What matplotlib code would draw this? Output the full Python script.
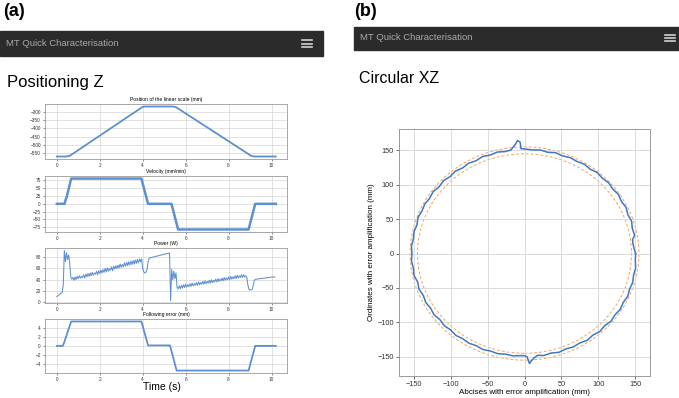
import numpy as np
import matplotlib.pyplot as plt
from matplotlib.patches import Rectangle, Circle
from matplotlib.lines import Line2D

plt.rcParams['font.family'] = ['Liberation Sans', 'DejaVu Sans']

W, H = 679, 398

# ---- panel (a): Positioning Z ----
position_t = [0, 0.45, 0.6, 4.0, 4.1, 5.4, 5.55, 9.05, 9.2, 10.2]
position_mm = [-570, -570, -566, -270, -268, -268, -272, -566, -570, -570]

velocity_t = [0, 0.36, 0.42, 0.46, 0.67, 3.94, 4.25, 5.34, 5.65, 8.93, 9.24, 10.2]
velocity = [0, 0, 15, 22, 81, 81, 0, 0, -82, -82, 0, 0]

follow_t = [0, 0.28, 0.36, 0.67, 3.94, 4.25, 5.27, 5.58, 8.93, 9.24, 10.2]
follow_err = [0, 0, 1, 5.35, 5.35, 0.1, 0.1, -5.4, -5.4, 0, 0]

power_dt = 0.05  # sampling period of the power record (s)
power_w = [
    10, 11.5, 13, 14.5, 16, 17.5, 30, 92, 72, 88, 76, 84, 70, 45,
    41, 44, 39, 45, 40, 46, 42, 47, 43, 46,
    44, 49, 43, 50, 45, 51, 46, 52, 47, 53,
    48, 52, 50, 55, 49, 56, 51, 57, 52, 58,
    53, 60, 54, 61, 55, 60, 57, 63, 56, 64,
    59, 65, 60, 66, 61, 68, 62, 67, 63, 70,
    64, 71, 65, 72, 66, 73, 67, 74, 68, 75,
    69, 76, 70, 77, 72,
    77, 60, 54, 52, 53, 58, 72, 78, 79, 79.5, 80, 80.5, 81, 81.5, 82,
    82.5, 83, 83.5, 84, 84.5, 85, 85.5, 86, 86.3, 86.6, 87, 87.5,
    3, 58, 40, 55, 42, 52, 26, 24,
    29, 24, 30, 25, 31, 26, 32, 27, 31, 28,
    33, 28, 34, 29, 33, 30, 35, 30, 36, 31,
    35, 32, 37, 32, 38, 33, 37, 34, 39, 34,
    40, 35, 39, 36, 41, 36, 42, 37, 41, 38,
    43, 38, 44, 39, 43, 40, 45, 40, 46, 41,
    45, 42, 47, 42, 48, 43, 47, 44, 49, 44,
    49, 45, 47,
    44, 30, 23, 22, 22, 23, 30, 39,
    40.5, 41.0, 41.3, 41.6, 41.8, 42.0, 42.3, 42.5, 42.8, 43.0,
    43.2, 43.5, 43.7, 44.0, 44.2, 44.5, 44.6, 44.8, 45.0,
]
power_t = np.arange(len(power_w)) * power_dt

time_ticks = [0, 2, 4, 6, 8, 10]
position_ticks = [-550, -500, -450, -400, -350, -300]
velocity_ticks = [-75, -50, -25, 0, 25, 50, 75]
power_ticks = [0, 20, 40, 60, 80]
follow_ticks = [-4, -2, 0, 2, 4]

# ---- panel (b): Circular XZ ----
circ_angle_deg = [
    0, 3, 6, 8, 10, 14, 18, 22, 26, 30, 34, 38, 42, 46, 50, 54, 58, 62, 66, 70,
    74, 78, 82, 86, 90, 91.8, 92.1, 93.3, 94.5, 95.8, 97, 100, 104, 108, 112,
    116, 120, 124, 128, 132, 136, 140, 144, 148, 152, 156, 160, 164, 168, 172,
    176, 180, 184, 188, 192, 196, 200, 204, 208, 212, 216, 220, 224, 228, 232,
    236, 240, 244, 248, 252, 256, 260, 264, 268, 270, 271.3, 272.4, 273.5, 275,
    277, 280, 284, 288, 292, 296, 300, 304, 308, 312, 316, 320, 324, 328, 332,
    336, 340, 344, 348, 352, 356, 360,
]
circ_radius = [
    150.5, 148.5, 147.5, 148, 151.5, 150.5, 152.5, 151, 153, 151.5, 153.5, 152,
    153.5, 152, 153.5, 151.5, 153, 151.5, 152.5, 151, 152.5, 150.5, 152, 151,
    152, 152.5, 162, 164.5, 159, 155, 151.5, 150.5, 152, 150.5, 152, 150,
    151.5, 150, 152, 150.5, 152.5, 151, 153, 151.5, 153, 152, 153.5, 151.5,
    153, 152, 153.5, 152.5, 153.5, 152, 153, 150.5, 152, 150, 151.5, 150,
    151.5, 149.5, 151, 149.5, 151, 149.5, 150.5, 149, 150.5, 149, 150, 148.5,
    149.5, 148.5, 148.5, 150, 160, 156, 152, 149, 150.5, 149, 151, 149.5, 151,
    150, 152, 150.5, 152.5, 151, 153, 151.5, 153, 151.5, 153, 151.5, 152.5,
    151, 152, 150.5, 150.5,
]
ref_radii = [145, 155]
circ_ticks = [-150, -100, -50, 0, 50, 100, 150]

fig = plt.figure(figsize=(W / 100, H / 100), dpi=100)


def rect(l, t, r, b):
    return [l / W, 1 - b / H, (r - l) / W, (b - t) / H]


def header(x0, x1, y0, y1, title_y, icon_x):
    fig.add_artist(Rectangle((x0 / W, 1 - y1 / H), (x1 - x0) / W, (y1 - y0) / H,
                             transform=fig.transFigure, color='#2b2b2b', zorder=0))
    fig.text((x0 + 6) / W, 1 - title_y / H, 'MT Quick Characterisation',
             color='#a9a9a9', fontsize=6.8, va='center')
    for dy in (-3.2, 0, 3.2):
        fig.add_artist(Line2D([icon_x / W, (icon_x + 10) / W],
                              [1 - (title_y + dy) / H] * 2,
                              transform=fig.transFigure, color='#d0d0d0', lw=1.2))


# headers
fig.text(3 / W, 1 - 12 / H, '(a)', fontsize=13, fontweight='bold', va='center')
fig.text(354 / W, 1 - 11 / H, '(b)', fontsize=13, fontweight='bold', va='center')
header(0, 323, 31, 56, 43.5, 302)
header(354, 690, 27, 50, 38, 665)
fig.text(7 / W, 1 - 87 / H, 'Positioning Z', fontsize=12, va='baseline')
fig.text(359 / W, 1 - 83 / H, 'Circular XZ', fontsize=11.5, va='baseline')

line_blue = '#5d8fd1'
small_axes = [
    (rect(45, 104, 287, 159), position_t, position_mm, 'Position of the linear scale (mm)', position_ticks, 1.3),
    (rect(45, 176, 287, 232), velocity_t, velocity, 'Velocity (mm/min)', velocity_ticks, 1.8),
    (rect(45, 248, 287, 303), power_t, power_w, 'Power (W)', power_ticks, 0.75),
    (rect(45, 319, 287, 373), follow_t, follow_err, 'Following error (mm)', follow_ticks, 1.3),
]
for box, xs, ys, title, yt, lw in small_axes:
    ax = fig.add_axes(box)
    ax.plot(xs, ys, color=line_blue, lw=lw)
    ax.set_xlim(-0.55, 10.72)
    ax.set_xticks(time_ticks)
    ax.set_yticks(yt)
    ax.grid(True, color='#d4d4d4', lw=0.5)
    ax.set_title(title, fontsize=3.6, pad=2)
    ax.tick_params(labelsize=3.4, length=1.5, width=0.4, pad=1.5, colors='#333333')
    for s in ax.spines.values():
        s.set_color('#9a9a9a')
        s.set_linewidth(0.6)
fig.text(162 / W, 1 - 387 / H, 'Time (s)', fontsize=7.5, ha='center', va='center')

# circular test
axc = fig.add_axes(rect(399, 129, 650, 376))
ang = np.deg2rad(circ_angle_deg)
rad = np.array(circ_radius)
for r in ref_radii:
    axc.add_patch(Circle((0, 0), r, fill=False, ls=(0, (3, 2)), lw=0.7, ec='#f2a565'))
axc.plot(rad * np.cos(ang), rad * np.sin(ang), color='#3f78c4', lw=1.1)
axc.set_xlim(-170, 170)
axc.set_ylim(-178, 181)
axc.set_xticks(circ_ticks)
axc.set_yticks(circ_ticks)
axc.grid(True, color='#d4d4d4', lw=0.6)
axc.tick_params(labelsize=5.3, length=2, width=0.5, pad=1.5, colors='#333333')
axc.set_xlabel('Abcises with error amplification (mm)', fontsize=5.8, labelpad=1)
axc.set_ylabel('Ordinates with error amplification (mm)', fontsize=5.8, labelpad=2)
for s in axc.spines.values():
    s.set_color('#9a9a9a')
    s.set_linewidth(0.7)

fig.savefig('out.png', dpi=100)
